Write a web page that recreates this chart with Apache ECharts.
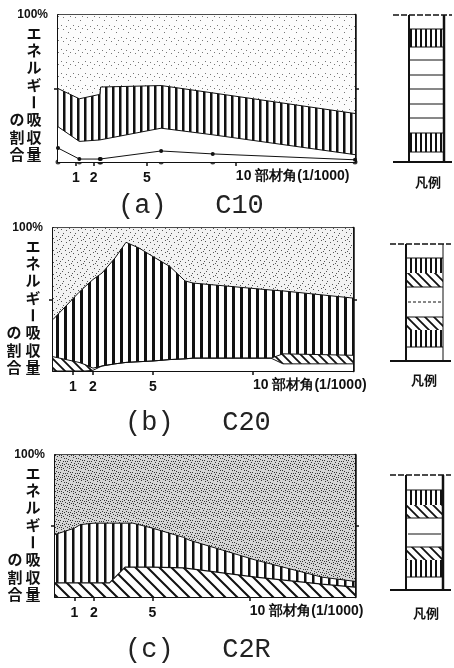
<!DOCTYPE html>
<html><head><meta charset="utf-8">
<script src="https://cdn.jsdelivr.net/npm/echarts@6/dist/echarts.min.js"></script>
<style>html,body{margin:0;padding:0;background:#fff}#c{width:454px;height:668px}</style>
</head><body><div id="c"></div>
<script>
// ---------------- data ----------------
const xTickValues = [1, 2, 5, 10];
const xLabelValues = [1, 2, 5];
const xUnitValue = [10];
const unitLabel = '部材角(1/1000)';
const yTopValue = [100];
const yMidValue = [50];
const yLabel1 = 'エネルギー吸収量';
const yLabel2 = 'の割合';
const legendLabel = '凡例';
const captions = ['(a)   C10', '(b)   C20', '(c)   C2R'];

// (a) C10
const aX    = [0, 1.2, 2.35, 2.4, 5.8, 8.7, 16.7];
const aLine = [9.5, 2, 2, 2, 7.5, 5.5, 1.5];
const aLow  = [24, 14, 15, 15, 23, 18.5, 5];
const aHigh = [50, 43, 46, 51, 52, 47, 33];
// (b) C20
const bX     = [0, 1.3, 1.6, 2.0, 2.45, 3.1, 3.65, 4.3, 5.0, 5.85, 6.6, 7.0, 10.9, 11.5, 15];
const bWhite = [0, 0, 0, 0.5, 3.5, 5, 6, 6.5, 7, 8, 8.5, 9, 9, 5, 5];
const bDiag  = [10, 6, 4.5, 2, 3.5, 5, 6, 6.5, 7, 8, 8.5, 9, 9, 12, 11];
const bVert  = [36, 55, 59, 64, 68.5, 79, 90, 86, 80, 73, 63, 61.5, 56.6, 56, 51];
// (c) C2R
const cX    = [0, 1.0, 1.3, 2.0, 2.8, 3.6, 4.0, 5.0, 6.6, 6.9, 8.6, 10.3, 12.0, 13.7, 15.4];
const cDiag = [10, 10, 10, 10, 10, 21, 21, 21, 20.5, 20, 17, 14, 11.5, 9, 7];
const cVert = [44, 48.5, 51, 52, 52, 52, 52, 48.5, 42, 40, 33, 26, 20, 14, 11];

// ---------------- textures ----------------
function mk(w, h) { const c = document.createElement('canvas'); c.width = w; c.height = h; return c; }
function vertTex(w, lw) {
  const c = mk(w, 4), g = c.getContext('2d');
  g.fillStyle = '#fff'; g.fillRect(0, 0, w, 4);
  g.fillStyle = '#111'; g.fillRect(0, 0, lw, 4);
  return { image: c, repeat: 'repeat' };
}
function diagTex(s, lw) {
  const c = mk(s, s), g = c.getContext('2d');
  g.fillStyle = '#fff'; g.fillRect(0, 0, s, s);
  g.strokeStyle = '#111'; g.lineWidth = lw; g.beginPath();
  for (const k of [-s, 0, s]) { g.moveTo(k - 1, -1); g.lineTo(k + s + 1, s + 1); }
  g.stroke();
  return { image: c, repeat: 'repeat' };
}
const dotSpots = [[1,1],[6,2],[10,4],[3,5],[8,8],[0,9],[5,10],[11,11],[2,7],[9,0],[7,5],[4,2],
                  [11,6],[1,11],[6,7],[9,10],[3,0],[0,4],[8,3],[5,5],[10,8],[2,9],[7,11],[4,8]];
function stippleTex(base, n, dot) {
  const c = mk(12, 12), g = c.getContext('2d');
  g.fillStyle = base; g.fillRect(0, 0, 12, 12);
  g.fillStyle = dot;
  for (let i = 0; i < n; i++) g.fillRect(dotSpots[i][0], dotSpots[i][1], 1, 1);
  return { image: c, repeat: 'repeat' };
}

const panels = [
  { grid: { left: 58, top: 15, width: 297, height: 147 }, xmax: 16.7,
    stip: stippleTex('#fcfcfc', 5, '#777'), vert: vertTex(7, 2.5), diag: diagTex(10, 1.8),
    col1: 34, col2: 17, cap: [118, 206] },
  { grid: { left: 53, top: 228, width: 300, height: 143 }, xmax: 15,
    stip: stippleTex('#f2f2f2', 10, '#555'), vert: vertTex(8, 3), diag: diagTex(9, 1.8),
    col1: 33, col2: 14, cap: [125, 423] },
  { grid: { left: 55, top: 455, width: 300, height: 142 }, xmax: 15.4,
    stip: stippleTex('#d6d6d6', 24, '#333'), vert: vertTex(8, 2.5), diag: diagTex(12, 2),
    col1: 33, col2: 15, cap: [125, 650] }
];

const pairs = (xs, ys) => xs.map((x, i) => [x, ys[i]]);
const full = xs => [[xs[0], 100], [xs[xs.length - 1], 100]];

const grids = [], xAxes = [], yAxes = [], series = [];
const ink = '#111';
const lblFont = { color: ink, fontSize: 14, fontWeight: 'bold', fontFamily: 'Liberation Sans' };

panels.forEach((p, i) => {
  grids.push(Object.assign({ containLabel: false }, p.grid));
  xAxes.push({ gridIndex: i, type: 'value', min: 0, max: p.xmax, position: 'bottom',
    axisLine: { onZero: false, lineStyle: { color: ink, width: 2 } },
    axisTick: { customValues: xTickValues, length: 4, lineStyle: { color: ink, width: 1.5 } },
    axisLabel: Object.assign({ customValues: xLabelValues, margin: 9 }, lblFont),
    splitLine: { show: false } });
  xAxes.push({ gridIndex: i, type: 'value', min: 0, max: p.xmax, position: 'bottom',
    axisLine: { show: false, onZero: false }, axisTick: { show: false },
    axisLabel: Object.assign({ customValues: xUnitValue, margin: 7, align: 'left',
      formatter: v => v + ' ' + unitLabel }, lblFont),
    splitLine: { show: false } });
  xAxes.push({ gridIndex: i, type: 'value', min: 0, max: p.xmax, position: 'top',
    axisLine: { onZero: false, lineStyle: { color: ink, width: 1.5 } },
    axisTick: { show: false }, axisLabel: { show: false }, splitLine: { show: false } });

  yAxes.push({ gridIndex: i, type: 'value', min: 0, max: 100, interval: 10, position: 'left',
    axisLine: { onZero: false, lineStyle: { color: ink, width: 2 } },
    axisTick: { inside: true, length: 3, lineStyle: { color: ink } },
    axisLabel: { customValues: yTopValue, formatter: v => v + '%', margin: 10,
      color: ink, fontSize: 12, fontWeight: 'bold', fontFamily: 'Liberation Sans' },
    splitLine: { show: false } });
  yAxes.push({ gridIndex: i, type: 'value', min: 0, max: 100, position: 'left',
    axisLine: { show: false, onZero: false },
    axisTick: { customValues: yMidValue, length: 4, lineStyle: { color: ink, width: 1.5 } },
    axisLabel: { show: false }, splitLine: { show: false } });
  yAxes.push({ gridIndex: i, type: 'value', min: 0, max: 100, position: 'right',
    axisLine: { onZero: false, lineStyle: { color: ink, width: 2.5 } },
    axisTick: { customValues: yMidValue, length: 4, lineStyle: { color: ink, width: 1.5 } },
    axisLabel: { show: false }, splitLine: { show: false } });
});

function area(pi, data, fill, lineW) {
  series.push({ type: 'line', xAxisIndex: pi * 3, yAxisIndex: pi * 3, data: data,
    showSymbol: false, silent: true, animation: false,
    lineStyle: { color: ink, width: lineW }, areaStyle: { color: fill, opacity: 1 } });
}
// (a)
area(0, full(aX), panels[0].stip, 0);
area(0, pairs(aX, aHigh), panels[0].vert, 1);
area(0, pairs(aX, aLow), '#fff', 1);
series.push({ type: 'line', xAxisIndex: 0, yAxisIndex: 0, data: pairs(aX, aLine),
  symbol: 'circle', symbolSize: 4, showSymbol: true, silent: true, animation: false,
  itemStyle: { color: ink }, lineStyle: { color: ink, width: 1 },
  areaStyle: { color: '#fff', opacity: 1 } });
series.push({ type: 'scatter', xAxisIndex: 0, yAxisIndex: 0, data: aX.map(x => [x, 0]),
  symbolSize: 5, itemStyle: { color: ink }, silent: true, animation: false });
// (b)
area(1, full(bX), panels[1].stip, 0);
area(1, pairs(bX, bVert), panels[1].vert, 1);
area(1, pairs(bX, bDiag), panels[1].diag, 1);
area(1, pairs(bX, bWhite), '#fff', 1);
// (c)
area(2, full(cX), panels[2].stip, 0);
area(2, pairs(cX, cVert), panels[2].vert, 1);
area(2, pairs(cX, cDiag), panels[2].diag, 1.2);

// ---------------- graphics (labels, captions, legend keys) ----------------
const G = [];
function txt(x, y, text, font, extra) {
  G.push(Object.assign({ type: 'text', x: x, y: y, silent: true,
    style: { text: text, font: font, fill: ink, align: 'center', verticalAlign: 'middle',
             textAlign: 'center', textVerticalAlign: 'middle' } }, extra || {}));
}
function ln(x1, y1, x2, y2, w, dash) {
  G.push({ type: 'line', silent: true, shape: { x1, y1, x2, y2 },
    style: { stroke: ink, lineWidth: w, lineDash: dash || null } });
}
function box(x, y, w, h, fill) {
  G.push({ type: 'rect', silent: true, shape: { x, y, width: w, height: h }, style: { fill: fill } });
}
const jpFont = 'bold 15px "Noto Sans CJK JP"';
panels.forEach((p, i) => {
  const t0 = p.grid.top + 18, step = 17.3;
  [...yLabel1].forEach((ch, k) => {
    txt(p.col1, t0 + k * step, ch, jpFont, ch === 'ー' ? { rotation: -Math.PI / 2 } : null);
  });
  [...yLabel2].forEach((ch, k) => txt(p.col2, t0 + (k + 5) * step, ch, jpFont));
  G.push({ type: 'text', x: p.cap[0], y: p.cap[1], silent: true,
    style: { text: captions[i], font: '27px "Liberation Mono"', fill: '#222',
             align: 'left', verticalAlign: 'middle', textAlign: 'left', textVerticalAlign: 'middle' } });
});

// legend keys
const keys = [
  { x: 409, w: 35, top: 15, bot: 162, label: [428, 182], stip: null,
    bands: [[29, 47, 'v'], [133, 152, 'v']], lines: [29, 47, 60, 75, 89, 104, 118, 133, 152], dash: null, p: 0 },
  { x: 406, w: 37, top: 244, bot: 361, label: [424, 380],
    bands: [[258, 273, 'v'], [273, 287, 'd'], [317, 330, 'd'], [330, 347, 'v']],
    lines: [258, 287, 317, 347], mid: 302, dash: [3, 2], p: 1 },
  { x: 406, w: 37, top: 475, bot: 590, label: [426, 613],
    bands: [[490, 505, 'v'], [505, 518, 'd'], [547, 560, 'd'], [560, 577, 'v']],
    lines: [490, 518, 547, 577], mid: 534, dash: null, p: 2 }
];
const keyVert = vertTex(5, 2), keyDiag = diagTex(9, 1.8);
keys.forEach(k => {
  k.bands.forEach(b => box(k.x, b[0], k.w, b[1] - b[0], b[2] === 'v' ? keyVert : keyDiag));
  k.lines.forEach(y => ln(k.x, y, k.x + k.w, y, 1));
  if (k.mid) ln(k.x + 2, k.mid, k.x + k.w - 2, k.mid, 1, k.dash);
  ln(k.x - 16, k.top, k.x + k.w + 8, k.top, 1.5, [6, 2]);
  ln(k.x - 16, k.bot, k.x + k.w + 8, k.bot, 2);
  ln(k.x, k.top, k.x, k.bot, 2);
  ln(k.x + k.w, k.top, k.x + k.w, k.bot, k.p === 1 ? 1 : 2.5);
  txt(k.label[0], k.label[1], legendLabel, 'bold 13px "Noto Sans CJK JP"');
});

const chart = echarts.init(document.getElementById('c'), null, { renderer: 'canvas' });
chart.setOption({
  animation: false,
  backgroundColor: '#fff',
  grid: grids, xAxis: xAxes, yAxis: yAxes, series: series, graphic: G
});
</script></body></html>
